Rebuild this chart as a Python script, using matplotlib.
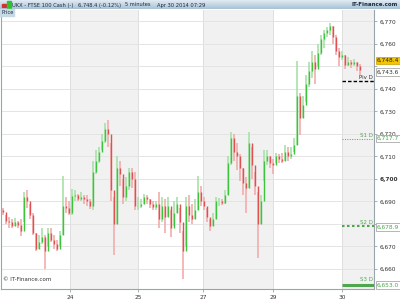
import matplotlib.pyplot as plt
import numpy as np
from matplotlib.colors import LinearSegmentedColormap

# 5 minute candles (one entry per ~3 px of the original)
first_open = 6686
closes = [6685.5, 6681.5, 6681, 6679, 6681, 6679.5, 6677, 6692, 6690, 6684,
          6676, 6669, 6672, 6674, 6668, 6676, 6673, 6671, 6669, 6675,
          6688, 6687, 6685, 6692.5, 6693, 6691, 6692, 6691, 6690, 6688,
          6703, 6708, 6712, 6717, 6722, 6720, 6695, 6680, 6705, 6702,
          6692, 6697, 6703, 6700, 6688, 6688, 6689, 6692, 6691, 6689,
          6687.5, 6689, 6682, 6688, 6683, 6688, 6678, 6685, 6689, 6681,
          6668, 6688, 6684, 6682, 6686, 6694, 6690, 6688, 6683, 6679,
          6682, 6690, 6690, 6689.5, 6693, 6707, 6718, 6712, 6710, 6705,
          6698, 6696, 6716, 6706, 6697, 6680, 6690, 6708, 6710, 6707,
          6706, 6710, 6709, 6708, 6712, 6710, 6711, 6715, 6737, 6727,
          6733, 6742, 6748, 6752, 6749, 6756, 6762, 6765, 6766, 6768,
          6763, 6757, 6754, 6755, 6750.5, 6752, 6751, 6752, 6750, 6748.4]
highs = [6687, 6684, 6683, 6682, 6682.5, 6681.5, 6682, 6694, 6695, 6689,
         6685, 6676, 6675, 6678, 6675, 6678, 6678, 6675, 6673, 6677,
         6701.5, 6692, 6690, 6695.5, 6695, 6693.5, 6694, 6693, 6693, 6691,
         6708, 6713, 6714, 6720, 6725, 6726, 6716, 6692, 6710, 6708,
         6700, 6701, 6705, 6705, 6703, 6692, 6691, 6693.5, 6693, 6691,
         6690, 6690, 6694, 6692, 6691, 6692, 6686, 6690, 6692, 6687,
         6677, 6692, 6693, 6689, 6691, 6701.5, 6697, 6692, 6687, 6682,
         6685, 6692, 6691.5, 6691, 6695, 6710, 6721, 6720, 6716, 6711,
         6705, 6701, 6721, 6714, 6703, 6694, 6693, 6713, 6713, 6710,
         6709, 6711.5, 6711, 6711.5, 6715, 6714, 6714, 6718, 6752.5, 6738,
         6737, 6746, 6752, 6757, 6755, 6760, 6764, 6766, 6767.5, 6769.5,
         6768, 6764, 6758, 6757, 6755, 6754, 6753, 6753.5, 6752, 6751]
lows = [6684, 6680, 6678, 6678, 6679, 6678, 6674.5, 6681, 6687, 6682,
        6675, 6668, 6669, 6671, 6660, 6670, 6672, 6669, 6668, 6670,
        6675, 6685, 6684, 6684, 6690, 6690, 6690, 6689, 6688, 6686.5,
        6686, 6702, 6707, 6713, 6716, 6714, 6690, 6666, 6680, 6697,
        6689, 6690, 6695, 6696, 6686, 6686, 6687, 6689, 6689, 6687,
        6686, 6686, 6678, 6681, 6676, 6683, 6674, 6679, 6685, 6676,
        6655.5, 6670, 6681, 6680, 6682, 6686, 6688, 6686, 6681, 6677,
        6679, 6682, 6688, 6688.5, 6689, 6693, 6706, 6708, 6704, 6699,
        6693, 6685, 6696, 6700, 6693, 6665, 6680, 6699, 6706, 6705,
        6702, 6707, 6707, 6707, 6708, 6708, 6709, 6712, 6715, 6719.5,
        6727, 6734, 6741, 6745, 6742, 6750, 6755, 6758, 6763, 6764,
        6760, 6755, 6750, 6753, 6749, 6750, 6749.5, 6750, 6748, 6746]

day_pos = [22.33, 45, 66.67, 90, 113]
day_labels = ['24', '25', '27', '29', '30']
shaded = [(22.33, 45), (66.67, 90), (113, 124)]
yticks = list(range(6660, 6771, 10))
hidden_ticks = [6750, 6680]   # covered by the price boxes in the original

last_price = 6748.4
pivot = 6743.6
s1 = 6717.7
s2 = 6678.9
s3 = 6653.0

W, H = 400, 300
def fx(px):
    return px / W
def fy(py):
    return 1 - py / H

fig = plt.figure(figsize=(4, 3), dpi=100)
ax = fig.add_axes([fx(1), fy(289), 373 / W, 279 / H])

x = np.arange(len(closes))
opens = [first_open] + closes[:-1]
up = np.array(closes) >= np.array(opens)
wick_col = np.where(up, '#a8e2a8', '#f2adad')
body_col = np.where(up, '#3cc43c', '#e05050')
body_lo = np.minimum(opens, closes)
body_hi = np.maximum(opens, closes)

for a, b in shaded:
    ax.axvspan(a, b, color='#f1f1f1', lw=0, zorder=0)
for d in day_pos:
    ax.axvline(d, color='#dedede', lw=0.7, zorder=0.5)

ax.vlines(x, lows, highs, colors=wick_col, lw=1.2, zorder=2)
ax.vlines(x, body_lo, body_hi, colors=body_col, lw=1.0, zorder=3)

# daily pivot / support lines
xr = 123.67
green = '#4fa64f'
ax.hlines(pivot, 113, xr, colors='black', linestyles=(0, (2.5, 1.5)), lw=1.0, zorder=4)
ax.hlines(s1, 113, xr, colors=green, linestyles=(0, (1, 1.5)), lw=0.7, zorder=4)
ax.hlines(s2, 113, xr, colors=green, linestyles=(0, (1.2, 1.2)), lw=1.5, zorder=4)
ax.hlines(s3, 113, xr, colors=green, lw=2.2, zorder=4)
ax.text(123.3, pivot + 0.5, 'Piv D', color='#333333', fontsize=4, ha='right', va='bottom')
ax.text(123.3, s1 + 0.5, 'S1 D', color=green, fontsize=4, ha='right', va='bottom')
ax.text(123.3, s2 + 0.7, 'S2 D', color=green, fontsize=4, ha='right', va='bottom')
ax.text(123.3, s3 + 1.0, 'S3 D', color=green, fontsize=4, ha='right', va='bottom')

ax.set_xlim(-0.67, xr)
ax.set_ylim(6651.1, 6775.1)
ax.set_yticks(yticks)
ax.set_yticklabels(['' if v in hidden_ticks else '{:,}'.format(v) for v in yticks])
ax.yaxis.tick_right()
ax.grid(axis='y', color='#e4e4e4', lw=0.7, zorder=0)
ax.set_xticks(day_pos)
ax.set_xticklabels(day_labels)
ax.tick_params(labelsize=4.2, length=2.5, width=0.6, colors='#9aa4ad',
               labelcolor='#333333', pad=1.5)
for lab in ax.get_yticklabels():
    if lab.get_text() == '6,700':
        lab.set_fontweight('bold')
ax.spines['top'].set_visible(False)
for s in ['left', 'right', 'bottom']:
    ax.spines[s].set_color('#9aa4ad')
    ax.spines[s].set_linewidth(0.8)

ax.text(0.005, 0.025, '\u00a9 IT-Finance.com', transform=ax.transAxes,
        fontsize=4, color='#333333', ha='left', va='bottom')

# price boxes on the right axis
def box(py, txt, fc, ec, tc):
    fig.text(fx(377), fy(py), txt, fontsize=4.2, color=tc, ha='left', va='center',
             bbox=dict(boxstyle='square,pad=0.2', fc=fc, ec=ec, lw=0.5), zorder=10)

box(60.5, '{:,.1f}'.format(last_price), '#f4c400', '#c89e00', '#222222')
box(72, '{:,.1f}'.format(pivot), 'white', '#999999', '#333333')
box(138.5, '{:,.1f}'.format(s1), 'white', '#999999', green)
box(227, '{:,.1f}'.format(s2), 'white', '#999999', green)
box(285, '{:,.1f}'.format(s3), 'white', '#999999', green)

# header bar
hax = fig.add_axes([0, fy(9.5), 1, 9.5 / H])
grad = np.linspace(0, 1, 20).reshape(-1, 1)
cm = LinearSegmentedColormap.from_list('hdr', ['#e6eff6', '#a9c3d6'])
hax.imshow(grad, aspect='auto', cmap=cm, extent=[0, 1, 0, 1])
hax.set_axis_off()
hax.add_patch(plt.Rectangle((0.006, 0.25), 0.01, 0.35, color='#d83030'))
hax.add_patch(plt.Rectangle((0.018, 0.2), 0.01, 0.65, color='#30c030'))
hy = fy(5)
fig.text(fx(12), hy, 'UKX - FTSE 100 Cash (-)', fontsize=3.7, color='#1a2a40', va='center')
fig.text(fx(78), hy, '6,748.4 (-0.12%)', fontsize=3.7, color='#1a2a40', va='center')
fig.text(fx(125), hy, '5 minutes', fontsize=3.7, color='#1a2a40', va='center')
fig.text(fx(157), hy, 'Apr 30 2014 07:29', fontsize=3.7, color='#1a2a40', va='center')
fig.text(fx(398), hy, 'IT-Finance.com', fontsize=4, color='#1a2a40', va='center',
         ha='right', fontweight='bold')

# "Price" tag
fig.text(fx(1.5), fy(13), 'Price', fontsize=3.7, color='#1a2a40', va='center', ha='left',
         bbox=dict(boxstyle='square,pad=0.25', fc='#c8d9e6', ec='#c8d9e6', lw=0.3))

fig.savefig('out.png', dpi=100)
